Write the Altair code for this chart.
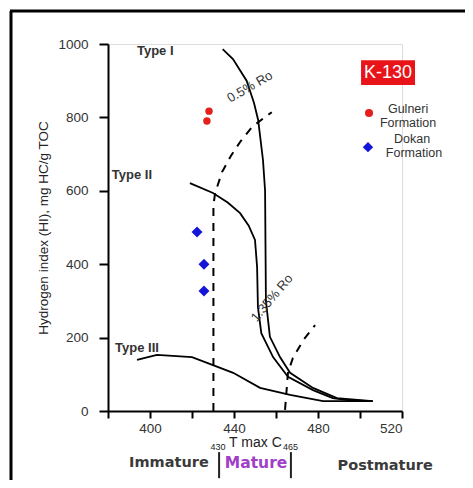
import altair as alt
import pandas as pd

FONT = "Liberation Sans"
WIDE = "DejaVu Sans"

# ---- data ----
type1_x = [434.6, 439.5, 446, 449.5, 451.5, 453.8, 454.8, 455.0, 455.2, 457.1, 461.9, 466.7, 477.6, 489, 506]
type1_y = [986, 959, 900, 840, 793, 684, 600, 450, 300, 202, 147, 104, 63, 35, 27]
type2_x = [419, 430, 437, 442.9, 447, 450, 451, 451.4, 453, 458.6, 465.7, 477.6, 487, 495, 506]
type2_y = [621, 594, 568, 539, 505, 466, 392, 283, 212, 147, 93, 57, 35, 29, 27]
type3_x = [393.8, 403.3, 420, 430, 439.6, 452.4, 466.7, 482.4, 506]
type3_y = [139, 153, 147, 125, 104, 63, 44, 27, 27]
ro05_x = [430.2, 430.2, 431, 434.3, 438.5, 442.9, 448.6, 456.2, 458]
ro05_y = [0, 560, 594, 651, 695, 733, 774, 807, 814]
ro135_x = [464.3, 465.7, 468, 473, 478.6]
ro135_y = [3, 104, 144, 193, 234]

gulneri_x = [428.1, 427.1]
gulneri_y = [817, 790]
dokan_x = [422.4, 425.7, 425.7]
dokan_y = [488, 400, 327]

x_ticks = [380, 400, 420, 440, 460, 480, 500, 520]
x_labels = [400, 440, 480, 520]
y_ticks = [0, 100, 200, 300, 400, 500, 600, 700, 800, 900, 1000]
y_labels = [0, 200, 400, 600, 800, 1000]

curve_rows = []
for name, xs_, ys_ in [("Type I", type1_x, type1_y), ("Type II", type2_x, type2_y), ("Type III", type3_x, type3_y)]:
    for i, (a, b) in enumerate(zip(xs_, ys_)):
        curve_rows.append({"s": name, "o": i, "x": a, "y": b})
curves = pd.DataFrame(curve_rows)

dash_rows = []
for name, xs_, ys_ in [("0.5", ro05_x, ro05_y), ("1.35", ro135_x, ro135_y)]:
    for i, (a, b) in enumerate(zip(xs_, ys_)):
        dash_rows.append({"s": name, "o": i, "x": a, "y": b})
dashes = pd.DataFrame(dash_rows)

xs = alt.Scale(domain=[380, 520], nice=False, zero=False)
ys = alt.Scale(domain=[0, 1000], nice=False, zero=False)

label_expr_x = "indexof([" + ",".join(str(v) for v in x_labels) + "], datum.value) >= 0 ? datum.label : ''"
label_expr_y = "indexof([" + ",".join(str(v) for v in y_labels) + "], datum.value) >= 0 ? datum.label : ''"

X = alt.X("x:Q", scale=xs, axis=alt.Axis(values=x_ticks, labelExpr=label_expr_x, title=None, grid=False,
                                          format="d", tickSize=7, labelPadding=3, domainWidth=2, tickWidth=2,
                                          domainColor="black", tickColor="black", labelFontSize=13.5,
                                          labelColor="#333", labelFont=FONT))
Y = alt.Y("y:Q", scale=ys, axis=alt.Axis(values=y_ticks, labelExpr=label_expr_y,
                                          title="Hydrogen index (HI), mg HC/g TOC", grid=False,
                                          format="d", tickSize=9, labelPadding=11, domainWidth=2, tickWidth=2,
                                          domainColor="black", tickColor="black", labelFontSize=13.5,
                                          labelColor="#333", labelFont=FONT, titleFont=FONT,
                                          titleFontSize=13.5, titleFontWeight="normal", titleColor="#222",
                                          titlePadding=7))

base = alt.Chart(curves).mark_line(color="black", strokeWidth=1.8, clip=False).encode(
    x=X, y=Y, detail="s:N", order="o:Q")

dash_layer = alt.Chart(dashes).mark_line(color="black", strokeWidth=2, strokeDash=[8, 7], clip=False).encode(
    x="x:Q", y="y:Q", detail="s:N", order="o:Q")

gul = alt.Chart(pd.DataFrame({"x": gulneri_x, "y": gulneri_y})).mark_point(
    shape="circle", filled=True, color="#E3201B", size=55, opacity=1).encode(x="x:Q", y="y:Q")
dok = alt.Chart(pd.DataFrame({"x": dokan_x, "y": dokan_y})).mark_point(
    shape="diamond", filled=True, color="#1515D8", size=120, opacity=1).encode(x="x:Q", y="y:Q")

# ---- annotations ----
type_labels = pd.DataFrame({"x": [402.5, 391.4, 393.8], "y": [981, 643, 172], "t": ["Type I", "Type II", "Type III"]})
types = alt.Chart(type_labels).mark_text(font=FONT, fontSize=13, fontWeight="bold", color="#333").encode(
    x="x:Q", y="y:Q", text="t:N")

ro1 = alt.Chart(pd.DataFrame({"x": [447.6], "y": [883], "t": ["0.5% Ro"]})).mark_text(
    font=FONT, fontSize=13, color="#333", angle=330).encode(x="x:Q", y="y:Q", text="t:N")
ro2 = alt.Chart(pd.DataFrame({"x": [458.1], "y": [308], "t": ["1.35% Ro"]})).mark_text(
    font=FONT, fontSize=13, color="#333", angle=310).encode(x="x:Q", y="y:Q", text="t:N")

box = alt.Chart(pd.DataFrame({"x": [500.5], "x2": [526.2], "y": [888], "y2": [956]})).mark_rect(
    color="#E8141A", clip=False).encode(x="x:Q", x2="x2:Q", y="y:Q", y2="y2:Q")
box_text = alt.Chart(pd.DataFrame({"x": [513.3], "y": [922], "t": ["K-130"]})).mark_text(
    font=FONT, fontSize=18, color="white").encode(x="x:Q", y="y:Q", text="t:N")

leg_c = alt.Chart(pd.DataFrame({"x": [504.3], "y": [812]})).mark_point(
    shape="circle", filled=True, color="#E3201B", size=65, opacity=1, clip=False).encode(x="x:Q", y="y:Q")
leg_d = alt.Chart(pd.DataFrame({"x": [503.8], "y": [719]})).mark_point(
    shape="diamond", filled=True, color="#1515D8", size=110, opacity=1, clip=False).encode(x="x:Q", y="y:Q")
leg_txt = alt.Chart(pd.DataFrame({"x": [522.9, 522.9, 524.8, 525.7], "y": [822, 785, 740, 703],
                                  "t": ["Gulneri", "Formation", "Dokan", "Formation"]})).mark_text(
    font=FONT, fontSize=12.5, color="#333").encode(x="x:Q", y="y:Q", text="t:N")

xt = alt.Chart(pd.DataFrame({"x": [450.2], "y": [-87], "t": ["T max C"]})).mark_text(
    font=FONT, fontSize=14, color="#222").encode(x="x:Q", y="y:Q", text="t:N")
xsub = alt.Chart(pd.DataFrame({"x": [432.4, 466.9], "y": [-98, -98], "t": ["430", "465"]})).mark_text(
    font=FONT, fontSize=9, color="#222").encode(x="x:Q", y="y:Q", text="t:N")
stage = alt.Chart(pd.DataFrame({"x": [409, 512], "y": [-142, -150], "t": ["Immature", "Postmature"]})).mark_text(
    font=WIDE, fontSize=14.5, fontWeight="bold", color="#3a3a3a").encode(x="x:Q", y="y:Q", text="t:N")
mature = alt.Chart(pd.DataFrame({"x": [450.5], "y": [-142], "t": ["Mature"]})).mark_text(
    font=WIDE, fontSize=15.5, fontWeight="bold", color="#A040C8").encode(x="x:Q", y="y:Q", text="t:N")
bars = alt.Chart(pd.DataFrame({"x": [432.9, 467.1], "y": [-112, -112], "y2": [-183, -183]})).mark_rule(
    color="#222", strokeWidth=2, clip=False).encode(x="x:Q", y="y:Q", y2="y2:Q")

frame_l = alt.Chart(pd.DataFrame({"a": [0]})).mark_rule(color="black", strokeWidth=3).encode(
    x=alt.value(-97), y=alt.value(-33), y2=alt.value(450))
frame_t = alt.Chart(pd.DataFrame({"a": [0]})).mark_rule(color="black", strokeWidth=3).encode(
    x=alt.value(-98), x2=alt.value(370), y=alt.value(-33))

chart = alt.layer(base, dash_layer, gul, dok, types, ro1, ro2, box, box_text, leg_c, leg_d, leg_txt,
                  xt, xsub, stage, mature, bars, frame_l, frame_t).properties(
    width=294, height=367,
    autosize=alt.AutoSizeParams(type="none"),
    padding={"left": 100, "top": 36, "right": 63, "bottom": 69},
).configure_view(stroke=None).configure(background="white")

chart.save("out.html", embed_options={"renderer": "svg", "actions": False})
